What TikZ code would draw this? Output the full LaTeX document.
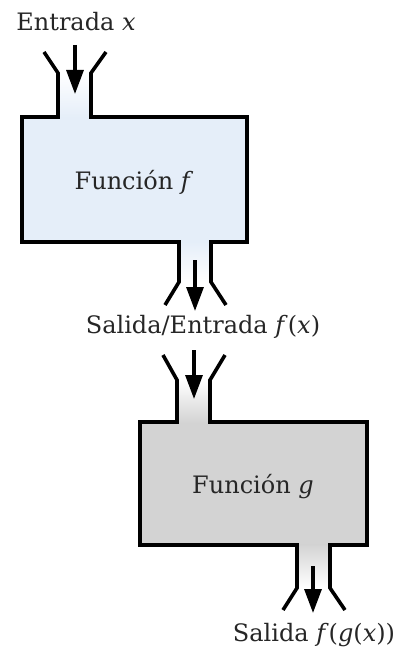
\documentclass[tikz,border=0pt]{standalone}
\usepackage{fontspec}
\setmainfont{DejaVu Serif}
\usetikzlibrary{arrows.meta}
\definecolor{boxblue}{RGB}{229,238,249}
\definecolor{boxgray}{RGB}{211,211,211}

\begin{document}
\begin{tikzpicture}[x=0.5pt,y=-0.5pt,
    pipe/.style={line width=1.8pt, line join=miter},
    flow/.style={line width=1.6pt, -{Triangle[width=8.5pt,length=12pt]}},
    tag/.style={font=\fontsize{12}{14}\selectfont, text=black!85, inner sep=0pt}]
  \useasboundingbox (0,0) rectangle (398,652);

  % Labels
  \node[tag] (inx) at (76,22) {Entrada \textit{x}};
  \node[tag] (mid) at (203,327) {Salida/Entrada \textit{f}(\textit{x})};
  \node[tag] (outfg) at (314,635) {Salida \textit{f}(\textit{g}(\textit{x}))};

  % Function f
  \fill[boxblue] (22,117) rectangle (247,242);
  \shade[top color=white, bottom color=boxblue] (58,72) rectangle (91,117.5);
  \shade[top color=boxblue, bottom color=white] (179,241.5) rectangle (211,282);
  \node[tag] (fname) at (134,182) {Función \textit{f}};
  \draw[pipe] (44,52) -- (58,73) -- (58,117) -- (22,117) -- (22,242)
    -- (179,242) -- (179,282) -- (165,305);
  \draw[pipe] (106,52) -- (91,73) -- (91,117) -- (247,117) -- (247,242)
    -- (211,242) -- (211,282) -- (226,305);

  % Function g
  \fill[boxgray] (140,422) rectangle (367,545);
  \shade[top color=white, bottom color=boxgray] (177,380) rectangle (210,422.5);
  \shade[top color=boxgray, bottom color=white] (297,544.5) rectangle (330,588);
  \node[tag] (gname) at (253,487) {Función \textit{g}};
  \draw[pipe] (163,355) -- (177,380) -- (177,422) -- (140,422) -- (140,545)
    -- (297,545) -- (297,588) -- (283,610);
  \draw[pipe] (225,355) -- (210,380) -- (210,422) -- (367,422) -- (367,545)
    -- (330,545) -- (330,588) -- (345,610);

  % Flow arrows
  \coordinate (fin0) at (75,45);   \coordinate (fin1) at (75,94);
  \coordinate (fout0) at (195,260); \coordinate (fout1) at (195,311);
  \coordinate (gin0) at (194,350);  \coordinate (gin1) at (194,399);
  \coordinate (gout0) at (313,566); \coordinate (gout1) at (313,613);
  \draw[flow] (fin0) -- (fin1);
  \draw[flow] (fout0) -- (fout1);
  \draw[flow] (gin0) -- (gin1);
  \draw[flow] (gout0) -- (gout1);
\end{tikzpicture}
\end{document}
